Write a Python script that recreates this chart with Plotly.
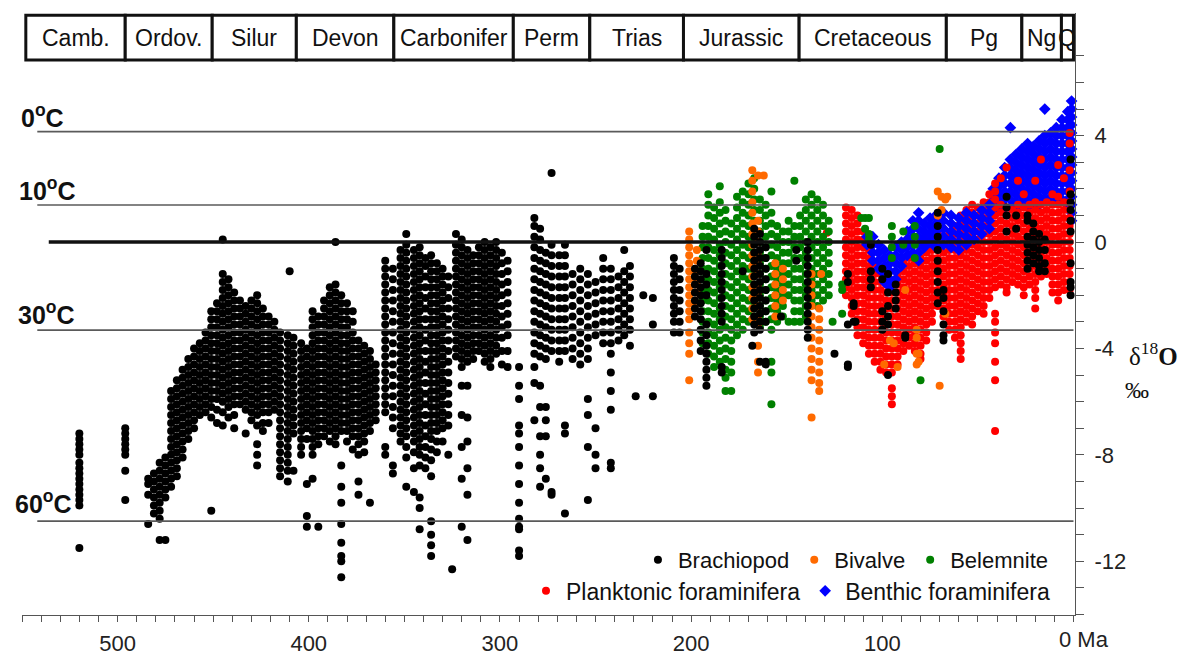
import plotly.graph_objects as go

# ---------------- data ----------------
period_names = ["Camb.", "Ordov.", "Silur", "Devon", "Carbonifer", "Perm", "Trias",
                "Jurassic", "Cretaceous", "Pg", "Ng", "Q"]
period_bounds = [548, 496, 450.5, 406.5, 355.5, 293, 253, 204, 143.5, 66.5, 27, 6.3, 0]

temp_labels = ["0<sup>o</sup>C", "10<sup>o</sup>C", "30<sup>o</sup>C", "60<sup>o</sup>C"]
temp_d18o = [4.15, 1.39, -3.31, -10.49]

x_tick_labels = ["500", "400", "300", "200", "100"]
x_tick_ages = [500, 400, 300, 200, 100]
y_tick_labels = ["-12", "-8", "-4", "0", "4"]
y_tick_vals = [-12, -8, -4, 0, 4]

# Brachiopods (black): ages (Ma) and d18O columns (permil)
brach_age = [520, 496, 484, 481, 478, 475, 472, 469, 466, 463, 460, 457, 454, 451, 448, 445, 442,
             439, 436, 433, 430, 427, 424, 421, 418, 415, 411, 410, 408, 404, 401, 398, 395, 392,
             389, 386, 383, 380, 377, 374, 371, 368, 365, 360, 356, 352, 349, 345, 342, 339, 336,
             333, 330, 327, 325, 323, 320, 317, 314, 311, 308, 305, 302, 299, 296, 290, 282, 279,
             276, 273, 269, 266, 262, 258, 254, 250, 246, 242, 238, 235, 232, 229, 225, 220, 209,
             206, 198, 195, 192, 184, 173, 168, 167, 164, 161, 153, 145, 139, 125, 118, 115, 114,
             106, 100, 97, 93, 88, 71, 68, 35, 30, 24, 21, 18, 15, 1.5]
brach_d18o = [
    [-7.2, -7.4, -7.6, -7.8, -8.0, -8.3, -8.5, -8.7, -8.9, -9.1, -9.3, -9.5, -9.7, -9.9, -11.5],
    [-7.0, -7.2, -7.4, -7.6, -7.8, -8.0, -8.6, -9.7],
    [-8.9, -9.1, -9.5, -10.6],
    [-8.7, -9.0, -9.3, -9.6, -9.9, -10.2],
    [-8.3, -8.6, -8.9, -9.2, -9.5, -9.8, -10.1, -10.4, -11.2],
    [-8.1, -8.4, -8.7, -9.0, -9.3, -9.6, -11.2],
    [-5.6, -5.9, -6.2, -6.5, -6.8, -7.1, -7.4, -7.7, -8.0, -8.3, -8.6, -8.9, -9.2],
    [-5.2, -5.5, -5.8, -6.1, -6.4, -6.7, -7.0, -7.3, -7.6, -7.9, -8.2, -8.5, -8.8],
    [-4.8, -5.1, -5.4, -5.7, -6.0, -6.3, -6.6, -6.9, -7.2, -7.5, -7.8, -8.1],
    [-4.4, -4.7, -5.0, -5.3, -5.6, -5.9, -6.2, -6.5, -6.8, -7.1, -7.4],
    [-4.0, -4.3, -4.6, -4.9, -5.2, -5.5, -5.8, -6.1, -6.4, -6.7, -7.0],
    [-3.8, -4.1, -4.4, -4.7, -5.0, -5.3, -5.6, -5.9, -6.2, -6.5],
    [-3.4, -3.7, -4.0, -4.3, -4.6, -4.9, -5.2, -5.5, -5.8, -6.1, -6.4],
    [-2.6, -2.9, -3.2, -3.5, -3.8, -4.1, -4.4, -4.7, -5.0, -5.3, -5.6, -5.9, -6.2, -6.6, -10.1],
    [-2.3, -2.6, -2.9, -3.2, -3.5, -3.8, -4.1, -4.4, -4.7, -5.0, -5.3, -5.6, -5.9, -6.3, -6.8],
    [0.1, -1.2, -1.5, -1.8, -2.1, -2.4, -2.7, -3.0, -3.3, -3.6, -3.9, -4.2, -4.5, -4.8, -5.1, -5.4, -5.7, -6.0, -6.4, -6.9],
    [-1.4, -1.7, -2.0, -2.3, -2.6, -2.9, -3.2, -3.5, -3.8, -4.1, -4.4, -4.7, -5.0, -5.3, -5.6, -5.9, -6.2, -6.6],
    [-1.9, -2.2, -2.5, -2.8, -3.1, -3.4, -3.7, -4.0, -4.3, -4.6, -4.9, -5.2, -5.5, -5.8, -6.1, -6.5, -7.0],
    [-2.2, -2.5, -2.8, -3.1, -3.4, -3.7, -4.0, -4.3, -4.6, -4.9, -5.2, -5.5, -5.8, -6.1],
    [-2.4, -2.7, -3.0, -3.3, -3.6, -3.9, -4.2, -4.5, -4.8, -5.1, -5.4, -5.7, -6.0, -6.3, -7.2],
    [-2.2, -2.5, -2.8, -3.1, -3.4, -3.7, -4.0, -4.3, -4.6, -4.9, -5.2, -5.5, -5.8, -6.1, -6.4, -6.7],
    [-2.0, -2.3, -2.6, -2.9, -3.2, -3.5, -3.8, -4.1, -4.4, -4.7, -5.0, -5.3, -5.6, -5.9, -6.2, -6.5, -6.9, -7.6, -8.0, -8.4],
    [-2.5, -2.8, -3.1, -3.4, -3.7, -4.0, -4.3, -4.6, -4.9, -5.2, -5.5, -5.8, -6.1, -6.4, -6.8, -7.1],
    [-2.8, -3.1, -3.4, -3.7, -4.0, -4.3, -4.6, -4.9, -5.2, -5.5, -5.8, -6.1, -6.4, -6.8],
    [-3.0, -3.3, -3.6, -3.9, -4.2, -4.5, -4.8, -5.1, -5.4, -5.7, -6.0, -6.3],
    [-3.4, -3.7, -4.0, -4.3, -4.6, -4.9, -5.2, -5.5, -5.8, -6.1, -6.4, -6.7, -7.0, -7.3, -7.6, -7.9, -8.2, -8.5, -8.8],
    [-3.5, -3.8, -4.1, -4.4, -4.7, -5.0, -5.3, -5.6, -5.9, -6.2, -6.5, -6.8, -7.1, -7.4, -7.7, -8.0, -8.3, -8.6, -9.0],
    [-1.1],
    [-3.6, -3.9, -4.2, -4.5, -4.8, -5.1, -5.4, -5.7, -6.0, -6.3, -6.6, -6.9, -7.2, -8.6],
    [-3.8, -4.1, -4.4, -4.7, -5.0, -5.3, -5.6, -5.9, -6.2, -6.5, -6.8, -7.1, -7.4, -7.7, -8.0],
    [-4.0, -4.3, -4.6, -4.9, -5.2, -5.5, -5.8, -6.1, -6.4, -6.7, -7.0, -7.4, -9.1, -10.3, -10.7],
    [-2.6, -2.9, -3.2, -3.5, -3.8, -4.1, -4.4, -4.7, -5.0, -5.3, -5.6, -5.9, -6.2, -6.5, -6.8, -7.1, -7.4, -7.7, -8.0, -8.9],
    [-2.8, -3.1, -3.4, -3.7, -4.0, -4.3, -4.6, -4.9, -5.2, -5.5, -5.8, -6.1, -6.4, -6.7, -7.0, -7.3, -7.6, -10.7],
    [-2.2, -2.5, -2.8, -3.1, -3.4, -3.7, -4.0, -4.3, -4.6, -4.9, -5.2, -5.5, -5.8, -6.1, -6.4, -6.7, -7.0, -7.3],
    [-1.7, -2.0, -2.3, -2.6, -2.9, -3.2, -3.5, -3.8, -4.1, -4.4, -4.7, -5.0, -5.3, -5.6, -5.9, -6.2, -6.5, -6.8, -7.1, -7.5],
    [0.0, -1.6, -1.9, -2.2, -2.5, -2.8, -3.1, -3.4, -3.7, -4.0, -4.3, -4.6, -4.9, -5.2, -5.5, -5.8, -6.1, -6.4, -6.7, -7.0, -7.3, -7.6],
    [-2.0, -2.3, -2.6, -2.9, -3.2, -3.5, -3.8, -4.1, -4.4, -4.7, -5.0, -5.3, -5.6, -5.9, -6.2, -6.5, -6.8, -7.1, -8.4, -9.2, -9.8, -10.6, -11.3, -11.8, -12.0, -12.6],
    [-2.3, -2.6, -2.9, -3.2, -3.5, -3.8, -4.1, -4.4, -4.7, -5.0, -5.3, -5.6, -5.9, -6.2, -6.5, -6.8, -7.1, -7.5],
    [-2.6, -3.0, -3.4, -3.7, -4.0, -4.3, -4.6, -4.9, -5.2, -5.5, -5.8, -6.1, -6.4, -6.7, -7.0, -7.3, -7.8],
    [-3.7, -4.0, -4.3, -4.6, -4.9, -5.2, -5.5, -5.8, -6.1, -6.4, -6.7, -7.0, -7.3, -7.6, -8.0, -9.0, -9.5],
    [-3.9, -4.2, -4.5, -4.8, -5.1, -5.4, -5.7, -6.0, -6.3, -6.6, -6.9, -7.2, -7.5, -7.9],
    [-4.1, -4.4, -4.7, -5.0, -5.3, -5.6, -5.9, -6.2, -6.5, -6.8, -7.1, -9.8],
    [-4.6, -4.9, -5.2, -5.5, -5.8, -6.1, -6.4, -6.7],
    [-0.7, -1.0, -1.3, -1.6, -1.9, -2.2, -2.5, -2.8, -3.1, -3.4, -3.7, -4.0, -4.3, -4.6, -4.9, -5.2, -5.5, -5.8, -6.1, -6.4, -7.7, -8.0],
    [-1.0, -1.4, -1.8, -2.2, -2.6, -3.0, -3.4, -3.8, -4.2, -4.6, -5.0, -5.4, -5.8, -6.2, -6.6, -7.0, -8.4, -8.7],
    [-0.3, -0.6, -0.9, -1.2, -1.5, -1.8, -2.1, -2.4, -2.7, -3.0, -3.3, -3.6, -3.9, -4.2, -4.5, -4.8, -5.1, -5.4, -5.7, -6.0, -6.3, -6.6, -6.9, -7.2, -7.5],
    [0.3, -0.1, -0.4, -0.7, -1.0, -1.3, -1.6, -1.9, -2.2, -2.5, -2.8, -3.1, -3.4, -3.7, -4.0, -4.3, -4.6, -4.9, -5.2, -5.5, -5.8, -6.1, -6.4, -6.7, -7.0, -7.3, -7.7, -8.1, -9.2],
    [-0.3, -0.6, -0.9, -1.2, -1.5, -1.8, -2.1, -2.4, -2.7, -3.0, -3.3, -3.6, -3.9, -4.2, -4.5, -4.8, -5.1, -5.4, -5.7, -6.0, -6.3, -6.6, -6.9, -7.2, -7.5, -7.9, -8.5, -9.4],
    [-0.2, -0.5, -0.8, -1.1, -1.4, -1.7, -2.0, -2.3, -2.6, -2.9, -3.2, -3.5, -3.8, -4.1, -4.4, -4.7, -5.0, -5.3, -5.6, -5.9, -6.2, -6.5, -6.8, -7.1, -7.4, -7.7, -8.0, -8.4, -9.6, -10.0, -10.8],
    [-0.6, -0.9, -1.3, -1.7, -2.1, -2.5, -2.9, -3.3, -3.7, -4.1, -4.5, -4.9, -5.3, -5.7, -6.1, -6.5, -6.9, -7.3, -7.7, -8.1, -8.5],
    [-0.5, -0.8, -1.1, -1.4, -1.7, -2.0, -2.3, -2.6, -2.9, -3.2, -3.5, -3.8, -4.1, -4.4, -4.7, -5.0, -5.3, -5.6, -5.9, -6.2, -6.5, -6.8, -7.1, -7.4, -7.8, -8.2, -8.8, -10.5, -11.0, -11.4, -11.8],
    [-0.8, -1.1, -1.4, -1.7, -2.0, -2.3, -2.6, -2.9, -3.2, -3.5, -3.8, -4.1, -4.4, -4.7, -5.0, -5.3, -5.6, -5.9, -6.2, -6.5, -6.8, -7.1, -7.5, -7.9],
    [-1.0, -1.3, -1.6, -1.9, -2.2, -2.5, -2.8, -3.1, -3.4, -3.7, -4.0, -4.3, -4.6, -4.9, -5.2, -5.5, -5.8, -6.1, -6.4, -6.7, -7.0, -7.5],
    [-1.3, -1.7, -2.1, -2.5, -2.9, -3.3, -3.7, -4.1, -4.5, -4.9, -5.3, -5.7, -6.1, -6.5, -6.9, -8.0],
    [-12.3],
    [0.3, -0.1, -0.4, -0.7, -1.0, -1.3, -1.6, -1.9, -2.2, -2.5, -2.8, -3.1, -3.4, -3.7, -4.0, -4.3],
    [0.1, -0.2, -0.5, -0.8, -1.1, -1.4, -1.7, -2.0, -2.3, -2.6, -2.9, -3.2, -3.5, -3.8, -4.1, -4.4, -4.7, -5.4, -6.5, -7.7, -8.9, -10.7],
    [-0.3, -0.6, -0.9, -1.2, -1.5, -1.8, -2.1, -2.4, -2.7, -3.0, -3.3, -3.6, -3.9, -4.2, -4.5, -5.4, -6.6, -7.5, -8.5, -9.5, -11.2],
    [-0.5, -0.8, -1.1, -1.4, -1.7, -2.0, -2.3, -2.6, -2.9, -3.2, -3.5, -3.8, -4.1, -4.4],
    [-0.2, -0.5, -0.8, -1.1, -1.4, -1.7, -2.0, -2.3, -2.6, -2.9, -3.2, -3.5, -3.8, -4.1],
    [0.0, -0.3, -0.6, -0.9, -1.2, -1.5, -1.8, -2.1, -2.4, -2.7, -3.0, -3.3, -3.6, -3.9, -4.2, -4.5],
    [-0.2, -0.5, -0.8, -1.1, -1.4, -1.7, -2.0, -2.3, -2.6, -2.9, -3.2, -3.5, -3.8, -4.1, -4.4, -4.7],
    [0.0, -0.3, -0.6, -0.9, -1.2, -1.5, -1.8, -2.1, -2.4, -2.7, -3.0, -3.3, -3.6, -3.9, -4.2],
    [-0.4, -0.8, -1.2, -1.6, -2.0, -2.4, -2.8, -3.2, -3.6, -4.1, -4.6],
    [-0.7, -1.1, -1.5, -1.9, -2.3, -2.7, -3.1, -3.5, -4.1, -4.7],
    [-4.7, -5.4, -5.9, -6.9, -7.2, -7.7, -8.4, -9.1, -9.8, -10.4, -10.7, -10.8, -11.6, -11.8],
    [0.9, 0.6, 0.2, -0.2, -0.6, -1.0, -1.4, -1.8, -2.2, -2.6, -3.0, -3.4, -3.8, -4.2, -4.7, -5.3, -6.7],
    [0.5, 0.1, -0.3, -0.7, -1.1, -1.5, -1.9, -2.3, -2.7, -3.1, -3.5, -3.9, -4.3, -5.4, -6.2, -7.3, -8.0, -8.5, -9.2],
    [-0.4, -0.8, -1.2, -1.6, -2.0, -2.4, -2.8, -3.2, -3.6, -4.0, -4.4, -6.2, -6.7, -7.3, -8.9],
    [2.6, -0.1, -0.5, -0.9, -1.3, -1.7, -2.1, -2.5, -2.9, -3.3, -3.7, -4.1, -9.4, -9.5],
    [-0.5, -0.9, -1.3, -1.7, -2.1, -2.5, -2.9, -3.3, -3.7, -4.1, -4.5],
    [-0.1, -0.5, -0.9, -1.3, -1.7, -2.1, -2.5, -2.9, -3.3, -3.7, -4.1, -6.9, -7.2, -10.2],
    [-1.2, -1.6, -2.0, -2.4, -2.8, -3.2, -3.6, -4.0, -4.4],
    [-1.0, -1.4, -1.8, -2.2, -2.6, -3.0, -3.4, -3.8, -4.2, -4.6],
    [-1.2, -1.6, -2.0, -2.4, -2.8, -3.2, -3.6, -4.0, -4.4, -5.9, -6.5, -7.7, -9.7],
    [-1.5, -1.9, -2.3, -2.7, -3.1, -3.5, -7.0, -8.0, -8.5],
    [-0.6, -1.0, -1.4, -1.8, -2.2, -2.6, -3.0, -3.4, -3.8],
    [-1.0, -1.4, -1.8, -2.2, -2.6, -3.0, -3.4, -3.8, -4.2, -4.9, -5.6, -6.3, -8.3, -8.5],
    [-1.3, -1.7, -2.1, -2.5, -2.9, -3.3, -3.7],
    [-0.3, -1.1, -1.5, -1.9, -2.3, -2.7, -3.1, -3.5],
    [-0.9, -1.3, -1.7, -2.1, -2.5, -2.9, -3.3, -3.9],
    [-5.8],
    [-2.0],
    [-2.1, -3.1, -5.8],
    [-0.6, -0.9, -1.2, -1.5, -1.8, -2.1, -2.4, -2.7, -3.0, -3.4],
    [-1.0, -1.4, -1.8, -2.2, -2.6, -3.0, -3.4],
    [-1.0, -1.3, -1.6, -1.9, -2.2, -2.5, -2.8],
    [-0.8, -1.1, -1.4, -1.7, -2.0, -2.3, -2.6, -2.9, -3.3, -3.7, -4.1],
    [-0.3, -1.2, -1.6, -2.0, -3.1, -3.5, -3.9, -4.2, -4.5, -4.8, -5.1, -5.4],
    [-0.3, -0.6, -0.9, -1.2, -1.5, -1.8, -2.1, -2.4, -2.7, -3.0, -4.7, -4.9],
    [-1.1],
    [-3.9],
    [0.5, 0.2, -0.1, -0.4, -0.7, -1.0, -1.3, -1.6, -1.9, -2.2, -2.5, -2.8, -3.1, -3.4],
    [0.3, 0.0, -0.3, -0.6, -0.9, -1.2, -1.5, -1.8, -2.1, -2.4, -2.7, -3.0, -3.3, -4.5],
    [-0.2, -0.6, -1.0, -1.4, -1.8, -2.2, -2.6, -3.0, -4.5, -4.6],
    [-2.8],
    [-0.3, -0.7],
    [0.0, -0.3, -0.6, -0.9, -1.2, -1.5, -1.8, -2.1, -2.4, -2.7, -3.0, -3.3, -3.6],
    [-4.2],
    [-1.2, -1.5, -3.1, -4.6, -4.7],
    [-2.3, -2.4, -3.0],
    [-3.0],
    [-0.1, -1.1, -1.4, -1.7],
    [-1.0, -1.4, -2.6, -3.0, -3.3],
    [-1.2, -1.9, -2.4, -2.8, -3.1, -5.0],
    [-1.6, -1.9, -2.2, -2.5],
    [-3.5, -3.6],
    [1.1, 0.6, 0.2, -0.3, -0.7, -1.1, -1.5, -1.9, -2.3],
    [-1.8, -2.1, -2.6, -3.1, -3.5, -3.7],
    [1.7, 1.3, 1.0, 0.4],
    [1.0, 0.5],
    [1.0, 0.8, 0.2, -0.1, -0.4, -0.7, -1.0],
    [0.7, 0.4, 0.1, -0.2, -0.5, -0.8],
    [0.3, 0.0, -0.3, -0.6, -0.9, -1.1],
    [0.1, -0.3, -0.8, -1.1],
    [3.1, 1.8, 1.5, 1.2, 0.8, 0.4, -0.8, -1.5, -1.7, -2.0],
]

# Bivalves (orange)
bival_age = [201, 197, 168, 165, 162, 156, 152, 137, 133, 132, 99, 96, 94, 92, 88, 82, 81,
             71, 70, 69, 67, 66]
bival_d18o = [
    [0.4, 0.1, -0.2, -0.5, -0.8, -1.1, -1.4, -1.7, -2.0, -2.3, -2.6, -2.9, -3.4, -3.8, -4.2, -5.2],
    [-0.3, -0.7, -1.1, -1.5, -1.9, -2.3],
    [2.7, 2.3, 1.9, 1.5, 1.1, 0.7, 0.3, -0.1, -0.5, -0.9, -1.3, -1.7, -2.1, -2.5, -2.9],
    [2.5, 0.8, 0.4, 0.0, -0.4, -0.8, -1.2, -1.6, -2.0, -2.4, -2.8, -3.1, -3.9, -4.5, -4.9],
    [2.5],
    [-0.8, -1.2, -1.6, -2.0, -2.4, -2.8],
    [-1.0, -1.4, -1.8, -2.2],
    [-1.2, -1.6, -2.0, -2.4, -2.8, -3.2, -3.6, -4.0, -4.4, -4.8, -5.2, -6.6],
    [-2.5, -2.9, -3.3, -3.7, -4.1, -4.5, -4.9, -5.3, -5.6],
    [-1.2],
    [-4.6],
    [-3.7],
    [-3.8],
    [-4.7],
    [-1.8],
    [-3.3, -3.6, -4.2, -4.6],
    [-4.2, -4.5],
    [1.9, 1.0],
    [-5.4],
    [1.7, 1.2],
    [1.6, -2.7],
    [1.7],
]

# Belemnites (green)
belem_age = [194, 191, 188, 185, 182, 179, 176, 173, 170, 167, 164, 161, 158, 155, 152, 149,
             146, 143, 140, 137, 134, 131, 128, 126, 121, 111, 109, 107, 95, 89, 83, 80, 70]
belem_d18o = [
    [0.6, 0.2, -0.2, -0.6, -1.0, -1.4, -1.8, -2.2, -2.6, -3.0, -3.4, -3.8],
    [1.8, 1.4, 1.0, 0.6, 0.2, -0.2, -0.6, -1.0, -1.4, -1.8, -2.2, -2.6, -3.0, -3.4, -3.8, -4.2],
    [1.3, 0.9, 0.5, 0.1, -0.3, -0.7, -1.1, -1.5, -1.9, -2.3, -2.7, -3.1, -3.5, -3.9, -4.3, -4.7],
    [2.1, 1.5, 1.1, 0.7, 0.3, -0.1, -0.5, -0.9, -1.3, -1.7, -2.1, -2.5, -2.9, -3.3, -3.7, -4.1, -4.5],
    [1.2, 0.8, 0.4, 0.0, -0.4, -0.8, -1.2, -1.6, -2.0, -2.4, -2.8, -3.2, -3.6, -4.0, -4.4, -4.8, -5.1, -5.6],
    [0.7, 0.3, -0.1, -0.5, -0.9, -1.3, -1.7, -2.1, -2.5, -2.9, -3.3, -3.7, -4.1, -4.5, -4.9, -5.6],
    [1.7, 1.3, 0.9, 0.5, 0.1, -0.3, -0.7, -1.1, -1.5, -1.9, -2.3, -2.7, -3.1, -3.5],
    [1.9, 1.5, 1.1, 0.7, 0.3, -0.1, -0.5, -0.9, -1.3, -1.7, -2.1, -2.5, -2.9, -3.3],
    [2.2, 1.8, 1.4, 1.0, 0.6, 0.2, -0.2, -0.6, -1.0, -1.4, -1.8, -2.2, -2.6, -3.0],
    [2.4, 2.0, 1.6, 1.2, 0.8, 0.4, 0.0, -0.4, -0.8, -1.2, -1.6, -2.0, -2.4, -2.8],
    [1.6, 1.2, 0.8, 0.4, 0.0, -0.4, -0.8, -1.2, -1.6, -2.0, -2.4, -2.8, -3.2],
    [1.4, 1.0, 0.6, 0.2, -0.2, -0.6, -1.0, -1.4, -1.8, -2.2, -2.6, -3.0],
    [1.9, 1.1, 0.7, 0.3, -0.1, -0.5, -0.9, -1.3, -1.7, -2.1, -2.5, -2.9, -3.3, -4.5, -4.9, -6.1],
    [0.6, 0.2, -0.2, -0.6, -1.0, -1.4, -1.8, -2.2, -2.6, -3.0],
    [0.4, 0.0, -0.4, -0.8, -1.2, -1.6, -2.0, -2.4, -2.8],
    [0.8, 0.4, 0.0, -0.4, -0.8, -1.2, -1.6, -2.0, -3.0],
    [2.3, 0.6, 0.2, -0.2, -0.6, -1.0, -1.4, -1.8, -2.2, -2.6, -3.0],
    [1.0, 0.6, 0.2, -0.2, -0.6, -1.0, -1.4, -1.8, -2.2, -2.6, -3.0],
    [1.6, 1.2, 0.8, 0.4, 0.0, -0.4, -0.8, -1.2, -1.6, -2.0, -2.4, -2.8],
    [1.8, 1.4, 1.0, 0.6, 0.2, -0.2, -0.6, -1.0, -1.4, -1.8, -2.2],
    [1.6, 1.2, 0.8, 0.4, 0.0, -0.4, -0.8, -1.2, -1.6, -2.0, -2.4],
    [1.4, 1.0, 0.6, 0.2, -0.2, -0.6, -1.0, -1.4, -1.8, -2.2],
    [0.8, 0.4, 0.0, -0.4, -0.8, -1.2, -1.6, -2.0],
    [-3.0],
    [-1.6, -1.8, -2.7],
    [0.9],
    [0.9, 0.5],
    [0.9, 0.3, 0.1],
    [0.6, 0.2, -0.2, -0.6],
    [0.4, -0.1],
    [0.6, 0.2, -0.1, -0.6],
    [-5.2],
    [3.5],
]

# Planktonic foraminifera (red)
plank_age = [129, 119, 116, 113, 110, 107, 104, 101, 98, 95, 92, 89, 86, 83, 80, 77, 74, 71, 68,
             65, 62, 59, 56, 53, 50, 47, 44, 41, 38, 35, 32, 29, 26, 23, 20, 17, 14, 11, 8, 5, 2]
plank_d18o = [
    [0.35],
    [1.3, 1.0, 0.7, 0.4, 0.1, -0.2, -0.5, -0.8, -1.1, -1.4, -1.7, -2.0],
    [1.2, 0.9, 0.6, 0.3, 0.0, -0.3, -0.6, -0.9, -1.2, -1.5, -1.8, -2.1, -2.4, -2.7],
    [1.0, 0.7, 0.4, 0.1, -0.2, -0.5, -0.8, -1.1, -1.4, -1.7, -2.0, -2.3, -2.6, -2.9, -3.2, -3.5],
    [0.4, 0.1, -0.2, -0.5, -0.8, -1.1, -1.4, -1.7, -2.0, -2.3, -2.6, -2.9, -3.2, -3.5, -3.8],
    [-0.3, -0.6, -0.9, -1.2, -1.5, -1.8, -2.1, -2.4, -2.7, -3.0, -3.3, -3.6, -3.9, -4.2],
    [-0.9, -1.2, -1.5, -1.8, -2.1, -2.4, -2.7, -3.0, -3.3, -3.6, -3.9, -4.2, -4.5],
    [-1.2, -1.5, -1.8, -2.1, -2.4, -2.7, -3.0, -3.3, -3.6, -3.9, -4.2, -4.5, -4.8],
    [-1.6, -1.9, -2.2, -2.5, -2.8, -3.1, -3.4, -3.7, -4.0, -4.3, -4.6, -4.9],
    [-1.6, -1.9, -2.2, -2.5, -2.8, -3.1, -3.4, -3.7, -4.0, -4.3, -4.6, -4.9, -5.5, -5.8, -6.1],
    [-1.3, -1.6, -1.9, -2.2, -2.5, -2.8, -3.1, -3.4, -3.7, -4.0, -4.3, -4.6],
    [-0.8, -1.1, -1.4, -1.7, -2.0, -2.3, -2.6, -2.9, -3.2, -3.5, -3.8, -4.1],
    [-0.6, -0.9, -1.2, -1.5, -1.8, -2.1, -2.4, -2.7, -3.0, -3.3, -3.6, -3.9],
    [-0.5, -0.8, -1.1, -1.4, -1.7, -2.0, -2.3, -2.6, -2.9, -3.2, -3.5, -3.8, -4.1],
    [-0.6, -0.9, -1.2, -1.5, -1.8, -2.1, -2.4, -2.7, -3.0, -3.3, -3.6, -3.9, -4.2, -4.4],
    [0.2, -0.1, -0.4, -0.7, -1.0, -1.3, -1.6, -1.9, -2.2, -2.5, -2.8, -3.1, -3.4, -3.7],
    [0.6, 0.3, 0.0, -0.3, -0.6, -0.9, -1.2, -1.5, -1.8, -2.1, -2.4, -2.7, -3.0],
    [0.9, 0.6, 0.3, 0.0, -0.3, -0.6, -0.9, -1.2, -1.5, -1.8, -2.1, -2.4],
    [0.5, 0.2, -0.1, -0.4, -0.7, -1.0, -1.3, -1.6, -1.9, -2.2, -2.5, -2.8],
    [0.3, 0.0, -0.3, -0.6, -0.9, -1.2, -1.5, -1.8, -2.1, -2.4, -2.7, -3.0, -3.3],
    [0.6, 0.3, 0.0, -0.3, -0.6, -0.9, -1.2, -1.5, -1.8, -2.1, -2.4, -2.7, -3.0, -3.3, -3.6],
    [1.0, 0.7, 0.4, 0.1, -0.2, -0.5, -0.8, -1.1, -1.4, -1.7, -2.0, -2.3, -2.6, -2.9, -3.2, -3.5, -3.8, -4.1, -4.4],
    [1.2, 0.9, 0.6, 0.3, 0.0, -0.3, -0.6, -0.9, -1.2, -1.5, -1.8, -2.1, -2.4, -2.7, -3.0],
    [1.4, 1.1, 0.8, 0.5, 0.2, -0.1, -0.4, -0.7, -1.0, -1.3, -1.6, -1.9, -2.2, -2.5, -2.8, -3.1],
    [1.3, 1.0, 0.7, 0.4, 0.1, -0.2, -0.5, -0.8, -1.1, -1.4, -1.7, -2.0, -2.3, -2.6],
    [1.5, 1.2, 0.9, 0.6, 0.3, 0.0, -0.3, -0.6, -0.9, -1.2, -1.5, -1.8, -2.1, -2.4, -2.7],
    [1.8, 1.5, 1.2, 0.9, 0.6, 0.3, 0.0, -0.3, -0.6, -0.9, -1.2, -1.5, -1.8, -2.1],
    [2.2, 1.9, 1.6, 1.3, 1.0, 0.7, 0.4, 0.1, -0.2, -0.5, -0.8, -1.1, -1.4, -1.7, -2.7, -3.0, -3.4, -3.8, -4.5, -5.2, -7.1],
    [2.4, 1.4, 1.1, 0.8, 0.5, 0.2, -0.1, -0.4, -0.7, -1.0, -1.3, -1.6],
    [2.8, 1.3, 1.0, 0.7, 0.4, 0.1, -0.2, -0.5, -0.8, -1.1, -1.4, -1.7, -1.9],
    [1.2, 0.9, 0.6, 0.3, 0.0, -0.3, -0.6, -0.9, -1.2, -1.5],
    [2.3, 1.4, 1.1, 0.8, 0.5, 0.2, -0.1, -0.4, -0.7, -1.0, -1.3, -1.6],
    [1.8, 1.3, 1.0, 0.7, 0.4, 0.1, -0.2, -0.5, -0.8, -1.1, -1.4, -1.7, -2.0],
    [1.4, 1.1, 0.8, 0.5, 0.2, -0.1, -0.4, -0.7, -1.0, -1.3, -1.6],
    [2.3, 1.5, 1.2, 0.9, 0.6, 0.3, 0.0, -0.3, -0.6, -0.9, -1.2, -1.5, -1.8, -2.1, -2.5],
    [3.1, 1.4, 1.1, 0.8, 0.5, 0.2, -0.1, -0.4, -0.7, -1.0, -1.3],
    [1.5, 1.2, 0.9, 0.6, 0.3, 0.0, -0.3, -0.6, -0.9, -1.2],
    [1.8, 1.4, 1.1, 0.8, 0.5, 0.2, -0.1, -0.4, -0.7, -1.0, -1.3, -1.6, -1.9],
    [2.9, 1.7, 1.4, 1.1, 0.8, 0.5, 0.2, -0.1, -0.4, -0.7, -1.0, -1.3, -1.6, -1.9, -2.2],
    [2.4, 1.5, 1.2, 0.9, 0.6, 0.3, 0.0, -0.3, -0.6, -0.9, -1.2, -1.5, -1.8],
    [4.1, 3.7, 2.7, 1.9, 1.5, 1.2, 0.9, 0.6, 0.3, 0.0, -0.3, -0.6, -0.9, -1.2, -1.5, -1.8],
]

# Benthic foraminifera (blue diamonds)
benth_age = [108, 105, 102, 99, 96, 93, 90, 87, 84, 81, 78, 75, 72, 68, 64, 60, 56, 52, 48, 44,
             42, 39, 36, 33, 30, 27, 24, 21, 18, 15, 12, 9, 6, 3, 1]
benth_d18o = [
    [0.2, -0.1],
    [0.2, -0.1, -0.4, -0.7],
    [-0.1, -0.4, -0.7, -1.0],
    [-0.3, -0.6, -0.9, -1.2, -1.5],
    [-0.5, -0.8, -1.1, -1.4, -1.7],
    [-0.2, -0.5, -0.8, -1.1, -1.4],
    [0.0, -0.3, -0.6, -0.9],
    [0.4, 0.1, -0.2, -0.5],
    [0.8, 0.5, 0.2, -0.1, -0.4],
    [1.1, 0.8, 0.5, 0.2, -0.1, -0.4, -0.7],
    [0.7, 0.4, 0.1, -0.2],
    [0.9, 0.6, 0.3, 0.0],
    [1.0, 0.7, 0.4, 0.1, -0.2],
    [1.1, 0.8, 0.5, 0.2, -0.1],
    [1.0, 0.7, 0.4, 0.1, -0.2],
    [0.9, 0.6, 0.3, 0.0, -0.3],
    [1.1, 0.8, 0.5, 0.2, -0.1],
    [1.0, 0.7, 0.4, 0.1],
    [1.2, 0.9, 0.6, 0.3],
    [1.4, 1.1, 0.8, 0.5],
    [2.0, 1.7, 1.4, 1.1],
    [2.4, 2.1, 1.8, 1.5, 1.2],
    [2.8, 2.5, 2.2, 1.9, 1.6, 1.3],
    [4.3, 3.1, 2.8, 2.5, 2.2, 1.9, 1.6, 1.3],
    [3.3, 3.0, 2.7, 2.4, 2.1, 1.8, 1.5, 1.2],
    [3.5, 3.2, 2.9, 2.6, 2.3, 2.0, 1.7, 1.4],
    [3.7, 3.4, 3.1, 2.8, 2.5, 2.2, 1.9, 1.6, 1.3],
    [3.6, 3.3, 3.0, 2.7, 2.4, 2.1, 1.8, 1.5],
    [3.8, 3.5, 3.2, 2.9, 2.6, 2.3, 2.0, 1.7, 1.4],
    [5.0, 4.0, 3.7, 3.4, 3.1, 2.8, 2.5, 2.2, 1.9, 1.6],
    [4.1, 3.8, 3.5, 3.2, 2.9, 2.6, 2.3, 2.0, 1.7],
    [4.3, 4.0, 3.7, 3.4, 3.1, 2.8, 2.5, 2.2, 1.9, 1.6],
    [4.6, 4.3, 4.0, 3.7, 3.4, 3.1, 2.8, 2.5, 2.2, 1.9, 1.6],
    [4.9, 4.6, 4.3, 4.0, 3.7, 3.4, 3.1, 2.8, 2.5, 2.2, 1.9, 1.6, 1.3],
    [5.3, 5.0, 4.7, 4.4, 4.1, 3.8, 3.5, 3.2, 2.9, 2.6, 2.3, 2.0, 1.7, 1.4, 1.1, 0.8],
]

for a, c in [(brach_age, brach_d18o), (bival_age, bival_d18o), (belem_age, belem_d18o),
             (plank_age, plank_d18o), (benth_age, benth_d18o)]:
    assert len(a) == len(c), (len(a), len(c))


def flatten(ages, cols):
    xs, ys = [], []
    for a, col in zip(ages, cols):
        for v in col:
            xs.append(a)
            ys.append(v)
    return xs, ys


# ---------------- figure ----------------
FONT = "Liberation Sans, Arial, sans-serif"
SERIF = "Liberation Serif, Times New Roman, serif"
fig = go.Figure()

bx, by = flatten(benth_age, benth_d18o)
bx_young = [a for a in bx if a < 43]
by_young = [v for a, v in zip(bx, by) if a < 43]
bx_old = [a for a in bx if a >= 43]
by_old = [v for a, v in zip(bx, by) if a >= 43]


def add(name, xs, ys, color, sym, size, leg, rank, show=True):
    fig.add_trace(go.Scatter(
        x=xs, y=ys, mode="markers", name=name, legend=leg, legendrank=rank,
        legendgroup=name, showlegend=show,
        marker=dict(color=color, symbol=sym, size=size, line=dict(width=0)),
        hoverinfo="skip", cliponaxis=False,
    ))


# draw order: young benthic (under), planktonic, old benthic, belemnite, bivalve, brachiopod
add("Benthic foraminifera", bx_young, by_young, "#0000ff", "diamond", 9, "legend2", 5)
px_, py_ = flatten(plank_age, plank_d18o)
add("Planktonic foraminifera", px_, py_, "#ff0000", "circle", 8, "legend2", 4)
add("Benthic foraminifera", bx_old, by_old, "#0000ff", "diamond", 9, "legend2", 5, show=False)
gx, gy = flatten(belem_age, belem_d18o)
add("Belemnite", gx, gy, "#008000", "circle", 8, "legend", 3)
ox, oy = flatten(bival_age, bival_d18o)
add("Bivalve", ox, oy, "#ff6a00", "circle", 8, "legend", 2)
kx, ky = flatten(brach_age, brach_d18o)
add("Brachiopod", kx, ky, "#000000", "circle", 8, "legend", 1)

# temperature reference lines
for v in temp_d18o:
    fig.add_shape(type="line", x0=542, x1=0, y0=v, y1=v, xref="x", yref="y",
                  line=dict(color="#5a5a5a", width=1.6), layer="above")
fig.add_shape(type="line", x0=536, x1=0, y0=0, y1=0, xref="x", yref="y",
              line=dict(color="#111111", width=3.5), layer="above")

# period boxes
box_lo, box_hi = 6.84, 8.53
for i, nm in enumerate(period_names):
    x0, x1 = period_bounds[i], period_bounds[i + 1]
    fig.add_shape(type="rect", x0=x0, x1=x1, y0=box_lo, y1=box_hi, xref="x", yref="y",
                  line=dict(color="#111111", width=3), fillcolor="white", layer="above")
    fig.add_annotation(x=(x0 + x1) / 2, y=(box_lo + box_hi) / 2, xref="x", yref="y",
                       text=nm, showarrow=False,
                       font=dict(family=FONT, size=23, color="#111111"))

# temperature labels
temp_label_pos = [(-0.003, 4.75), (-0.0045, 1.98), (-0.0057, -2.65), (-0.0085, -9.78)]
for lab, (px, py) in zip(temp_labels, temp_label_pos):
    fig.add_annotation(x=px, y=py, xref="paper", yref="y", text="<b>" + lab + "</b>",
                       showarrow=False, xanchor="left",
                       font=dict(family=FONT, size=25, color="#111111"))

# right axis title
fig.add_annotation(x=1.1, y=-4.2, xref="paper", yref="y", yanchor="middle",
                   text="δ<sup>18</sup><b>O</b>", showarrow=False,
                   font=dict(family=SERIF, size=25, color="#111111"))
fig.add_annotation(x=1.072, y=-5.55, xref="paper", yref="y", yanchor="middle",
                   text="‰", showarrow=False,
                   font=dict(family=SERIF, size=24, color="#111111"))
# "0 Ma" label
fig.add_annotation(x=0.983, y=-0.041, xref="paper", yref="paper", text="0 Ma",
                   showarrow=False, xanchor="left", yanchor="middle",
                   font=dict(family=FONT, size=22, color="#222222"))

x_tickvals = list(range(0, 551, 10))
x_ticktext = [x_tick_labels[x_tick_ages.index(v)] if v in x_tick_ages else "" for v in x_tickvals]
y_tickvals = list(range(-14, 8))
y_ticktext = [y_tick_labels[y_tick_vals.index(v)] if v in y_tick_vals else "" for v in y_tickvals]

fig.update_layout(
    width=1182, height=657,
    margin=dict(l=22, r=107, t=13, b=42),
    paper_bgcolor="white", plot_bgcolor="white",
    font=dict(family=FONT, color="#111111"),
    xaxis=dict(range=[550, -0.8], showgrid=False, zeroline=False, showline=True,
               linecolor="#555555", linewidth=1.3, ticks="outside", ticklen=6,
               tickcolor="#555555", tickwidth=1.2, tickvals=x_tickvals, ticktext=x_ticktext,
               ticklabelstandoff=2, automargin=False,
               tickfont=dict(size=22, color="#222222", family=FONT)),
    yaxis=dict(range=[-14.02, 8.61], side="right", showgrid=False, zeroline=False,
               showline=True, linecolor="#555555", linewidth=1.3, ticks="outside", ticklen=8,
               tickcolor="#555555", tickwidth=1.2, tickvals=y_tickvals, ticktext=y_ticktext,
               ticklabelstandoff=6, automargin=False,
               tickfont=dict(size=22, color="#222222", family=FONT)),
    legend=dict(orientation="h", x=0.98, xanchor="right", y=0.0914, yanchor="middle",
                bgcolor="rgba(0,0,0,0)", font=dict(size=22, family=FONT, color="#111111"),
                itemwidth=30, traceorder="normal"),
    legend2=dict(orientation="h", x=0.981, xanchor="right", y=0.040, yanchor="middle",
                 bgcolor="rgba(0,0,0,0)", font=dict(size=23, family=FONT, color="#111111"),
                 itemwidth=30, traceorder="normal"),
    showlegend=True,
)

fig.write_html("out.html")
